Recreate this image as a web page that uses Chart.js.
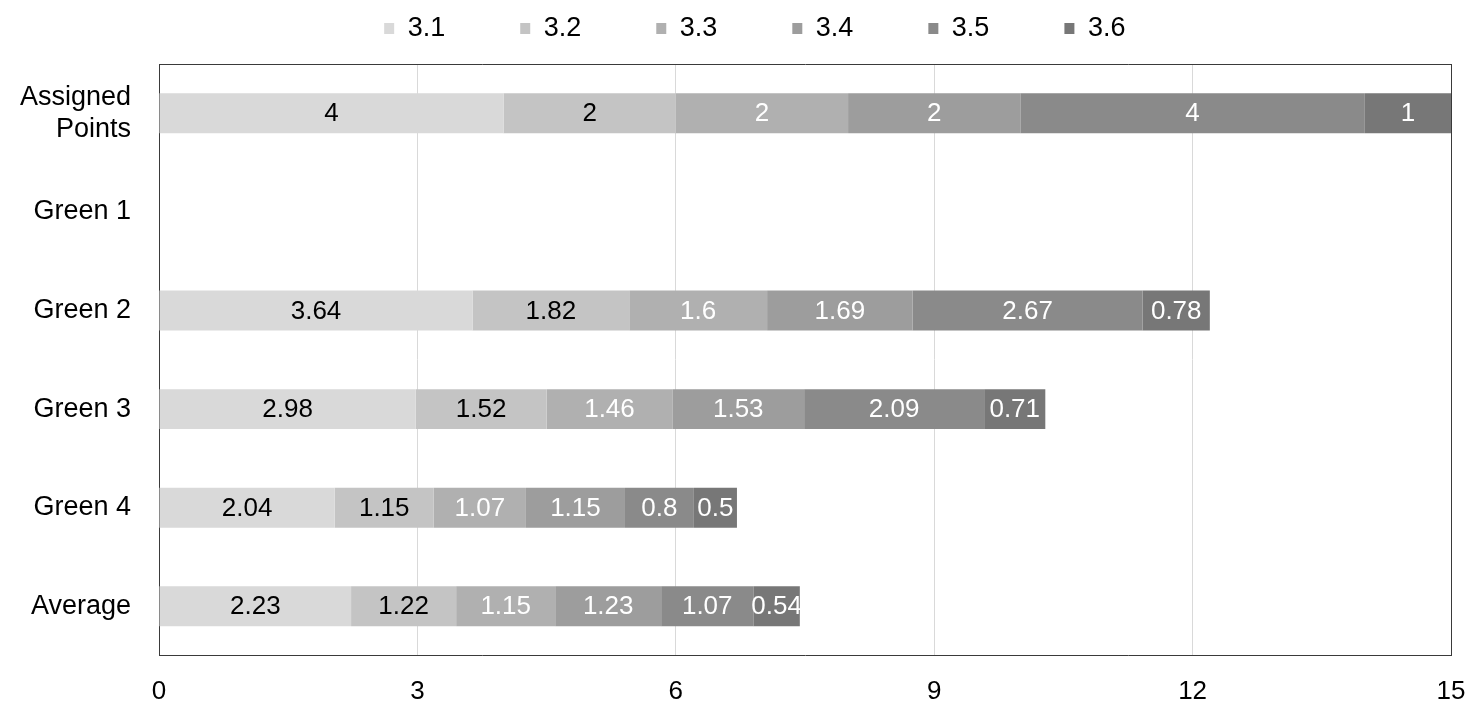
<!DOCTYPE html>
<html>
<head>
<meta charset="utf-8">
<script src="https://cdn.jsdelivr.net/npm/chart.js@4.4.1/dist/chart.umd.min.js"></script>
<style>
  html, body { margin: 0; padding: 0; background: #fff; }
  #wrap { width: 1478px; height: 716px; position: relative; }
</style>
</head>
<body>
<div id="wrap"><canvas id="c"></canvas></div>
<script>
// ---- data ----
const categories = [['Assigned', 'Points'], 'Green 1', 'Green 2', 'Green 3', 'Green 4', 'Average'];
const seriesNames = ['3.1', '3.2', '3.3', '3.4', '3.5', '3.6'];
const s31 = [4, null, 3.64, 2.98, 2.04, 2.23];
const s32 = [2, null, 1.82, 1.52, 1.15, 1.22];
const s33 = [2, null, 1.6, 1.46, 1.07, 1.15];
const s34 = [2, null, 1.69, 1.53, 1.15, 1.23];
const s35 = [4, null, 2.67, 2.09, 0.8, 1.07];
const s36 = [1, null, 0.78, 0.71, 0.5, 0.54];
const xTicks = [0, 3, 6, 9, 12, 15];

const seriesValues = [s31, s32, s33, s34, s35, s36];
const colors = ['#d9d9d9', '#c4c4c4', '#b0b0b0', '#9d9d9d', '#8a8a8a', '#777777'];
const labelColors = ['#000000', '#000000', '#ffffff', '#ffffff', '#ffffff', '#ffffff'];

const FONT = "'Liberation Sans', Arial, sans-serif";
Chart.defaults.font.family = FONT;
Chart.defaults.color = '#000';

const datasets = seriesNames.map((name, i) => ({
  label: name,
  data: seriesValues[i],
  backgroundColor: colors[i],
  borderWidth: 0,
  categoryPercentage: 1.0,
  barPercentage: 0.405,
  labelColor: labelColors[i]
}));

const valueLabels = {
  id: 'valueLabels',
  afterDatasetsDraw(chart) {
    const ctx = chart.ctx;
    ctx.save();
    ctx.font = "26px " + FONT;
    ctx.textAlign = 'center';
    ctx.textBaseline = 'middle';
    chart.data.datasets.forEach((ds, di) => {
      const meta = chart.getDatasetMeta(di);
      meta.data.forEach((el, i) => {
        const v = ds.data[i];
        if (v === null || v === undefined) return;
        const p = el.getProps(['x', 'y', 'base'], true);
        ctx.fillStyle = ds.labelColor;
        ctx.fillText(String(v), (p.x + p.base) / 2, p.y + 1);
      });
    });
    ctx.restore();
  }
};

const BORDER = '#3a3a3a';
const CLEAR = 'rgba(0,0,0,0)';
const GAP = ' '.repeat(8);        // spacing after each legend entry
const LAST_GAP = ' '.repeat(45);  // trailing room so the end-aligned legend sits where the original does

new Chart(document.getElementById('c'), {
  type: 'bar',
  data: { labels: categories, datasets },
  options: {
    indexAxis: 'y',
    responsive: true,
    maintainAspectRatio: false,
    animation: false,
    layout: { padding: { left: 0, right: 0, top: 0, bottom: 0 } },
    plugins: {
      tooltip: { enabled: false },
      legend: {
        position: 'top',
        align: 'end',
        labels: {
          boxWidth: 10,
          boxHeight: 11,
          padding: 15,
          font: { size: 27 },
          color: '#000',
          generateLabels(chart) {
            const n = chart.data.datasets.length;
            return chart.data.datasets.map((ds, i) => ({
              text: ds.label + (i < n - 1 ? GAP : LAST_GAP),
              fillStyle: ds.backgroundColor,
              strokeStyle: ds.backgroundColor,
              lineWidth: 0,
              hidden: false,
              datasetIndex: i
            }));
          }
        }
      }
    },
    scales: {
      x: {
        type: 'linear',
        stacked: true,
        position: 'bottom',
        min: 0,
        max: 15,
        afterBuildTicks(scale) { scale.ticks = xTicks.map(v => ({ value: v })); },
        ticks: { font: { size: 26, lineHeight: 1.9 }, color: '#000', padding: 12 },
        grid: { color: '#d9d9d9', lineWidth: 1, drawTicks: false },
        border: { display: true, color: BORDER, width: 1 },
        afterFit(s) { s.height = 59; }
      },
      x2: {
        type: 'linear',
        position: 'top',
        min: 0,
        max: 15,
        afterBuildTicks(scale) { scale.ticks = []; },
        ticks: { display: false, color: CLEAR },
        grid: { display: false, drawTicks: false, color: CLEAR },
        border: { display: true, color: BORDER, width: 1 },
        afterFit(s) { s.height = 12; }
      },
      y: {
        type: 'category',
        stacked: true,
        position: 'left',
        ticks: { font: { size: 27 }, color: '#000', padding: 28 },
        grid: { display: false, drawTicks: false },
        border: { display: true, color: BORDER, width: 1 },
        afterFit(s) { s.width = 159; }
      },
      y2: {
        type: 'linear',
        position: 'right',
        afterBuildTicks(scale) { scale.ticks = []; },
        ticks: { display: false, color: CLEAR },
        grid: { display: false, drawTicks: false, color: CLEAR },
        border: { display: true, color: BORDER, width: 1 },
        afterFit(s) { s.width = 27; }
      }
    }
  },
  plugins: [valueLabels]
});
</script>
</body>
</html>
